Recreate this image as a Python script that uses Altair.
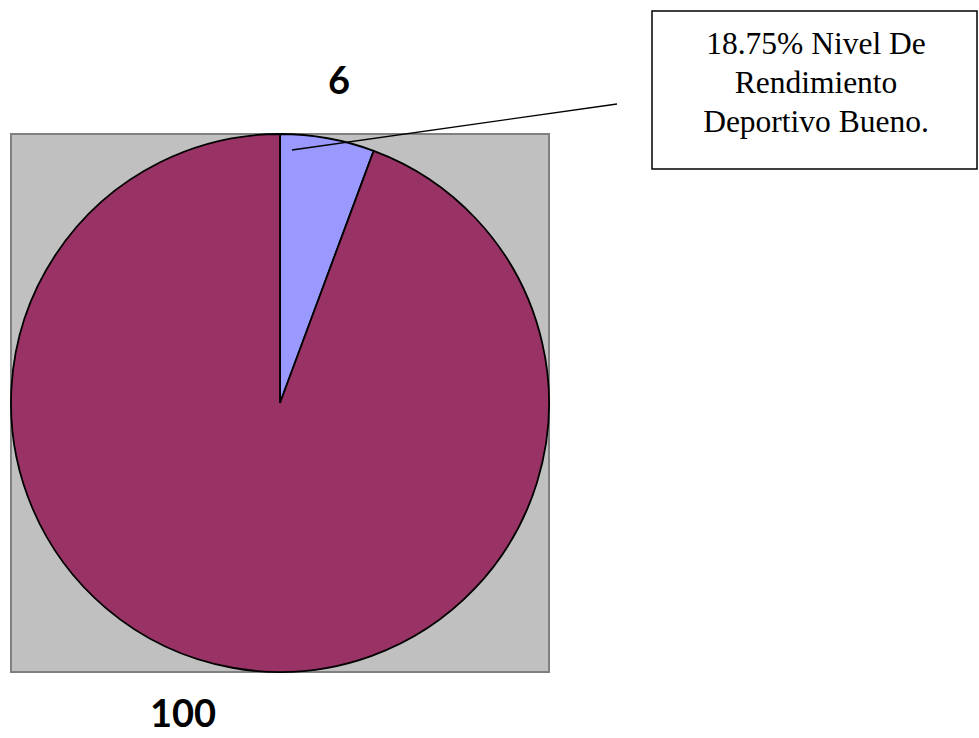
import altair as alt
import pandas as pd

# Slice values (order = clockwise from 12 o'clock)
categories = ["Bueno", "Otros"]
values = [6, 100]
slice_colors = ["#9999FF", "#993366"]

# Annotation text
note_lines = ["18.75% Nivel De", "Rendimiento", "Deportivo Bueno."]

pie_df = pd.DataFrame({"cat": categories, "val": values, "ord": [0, 1]})
cx, cy, r = 280, 403, 269

W, H = 979, 738

# grey plot-area square behind the pie
plot_bg = alt.Chart(pd.DataFrame({"k": [0]})).mark_rect(
    fill="#C0C0C0", stroke="#808080", strokeWidth=2
).encode(
    x=alt.value(cx - r), x2=alt.value(cx + r),
    y=alt.value(cy - r), y2=alt.value(cy + r),
)

pie = alt.Chart(pie_df).mark_arc(
    radius=r, stroke="black", strokeWidth=1.8
).encode(
    theta=alt.Theta("val:Q", stack=True),
    order=alt.Order("ord:Q"),
    color=alt.Color("cat:N", scale=alt.Scale(domain=categories, range=slice_colors), legend=None),
    x=alt.value(cx), y=alt.value(cy),
)

# value labels
lab_small = alt.Chart(pie_df[pie_df["cat"] == "Bueno"]).mark_text(
    font="Lato", fontWeight="bold", fontSize=38, align="center", baseline="middle", color="black"
).encode(text="val:Q", x=alt.value(339), y=alt.value(83))

lab_big = alt.Chart(pie_df[pie_df["cat"] == "Otros"]).mark_text(
    font="Lato", fontWeight="bold", fontSize=38, align="center", baseline="middle", color="black"
).encode(text="val:Q", x=alt.value(183), y=alt.value(716))

# leader line from the small slice to the note box
leader = alt.Chart(pd.DataFrame({"k": [0]})).mark_rule(color="black", strokeWidth=1.3).encode(
    x=alt.value(292), y=alt.value(150), x2=alt.value(617), y2=alt.value(104)
)

box = alt.Chart(pd.DataFrame({"k": [0]})).mark_rect(
    fill="white", stroke="black", strokeWidth=1.5
).encode(x=alt.value(652), x2=alt.value(977), y=alt.value(11), y2=alt.value(169))

note_df = pd.DataFrame({"line": note_lines, "i": [0, 1, 2]})
note = alt.Chart(note_df).mark_text(
    font="Liberation Serif", fontSize=31.5, align="center", baseline="alphabetic", color="black"
).encode(
    text="line:N",
    x=alt.value(816),
    y=alt.Y("i:Q", scale=alt.Scale(domain=[0, 2], range=[54, 132]), axis=None),
)

chart = alt.layer(plot_bg, pie, leader, lab_small, lab_big, box, note).properties(
    width=W, height=H, autosize=alt.AutoSizeParams(type="none"), padding=0,
    background="white",
).configure_view(stroke=None)

chart.save("out.html", embed_options={"renderer": "svg", "actions": False})
